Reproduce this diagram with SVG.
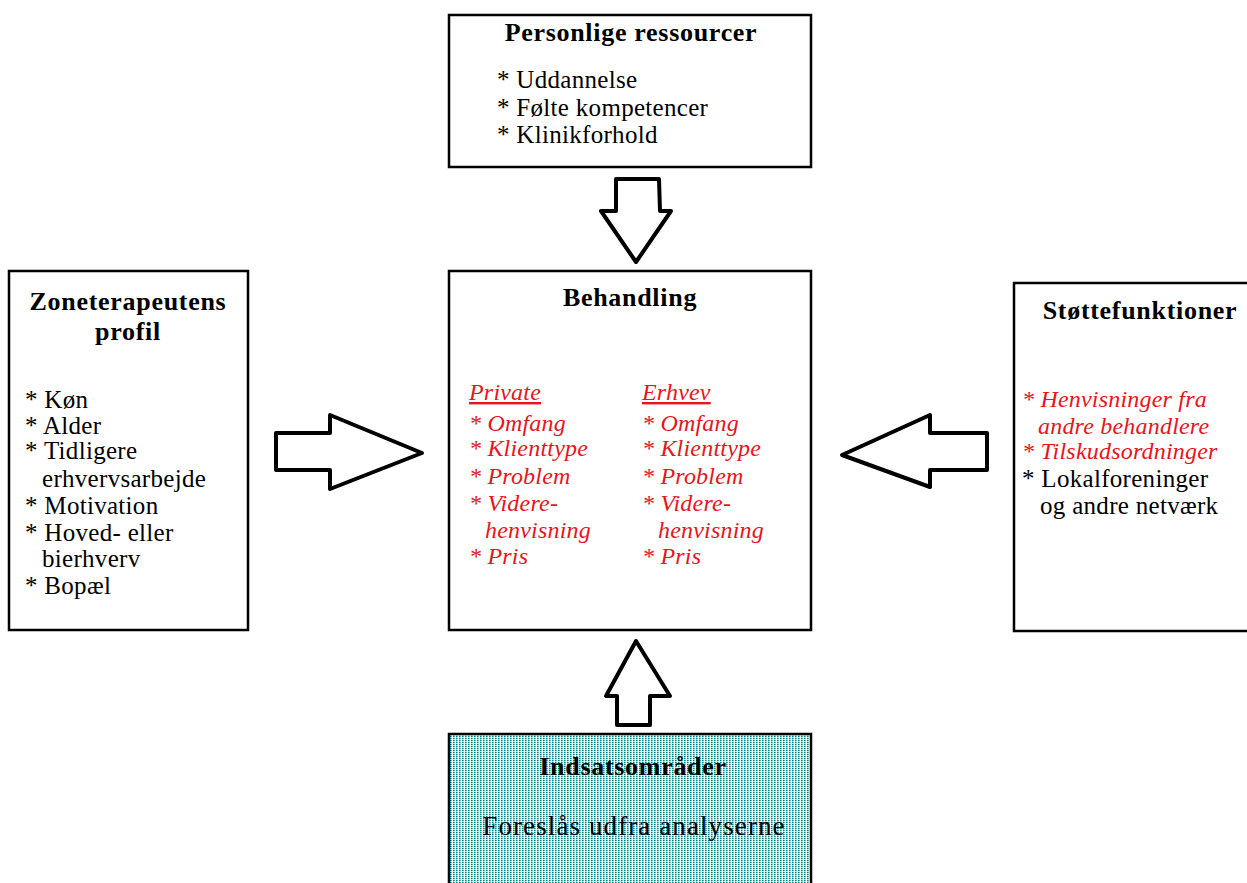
<svg xmlns="http://www.w3.org/2000/svg" width="1247" height="883" viewBox="0 0 1247 883">
<defs>
<style>
.box{fill:#fff;stroke:#000;stroke-width:2.5}
.t{font-family:"Liberation Serif",serif;font-weight:bold;font-size:26px;letter-spacing:0.7px;fill:#000}
.i{font-family:"Liberation Serif",serif;font-size:25px;letter-spacing:0.3px;fill:#000}
.r{font-family:"Liberation Serif",serif;font-style:italic;font-size:24px;letter-spacing:0.2px;fill:#e8141c}
.big{font-size:27px;letter-spacing:1.1px}
.arr{fill:#fff;stroke:#000;stroke-width:4;stroke-linejoin:round}
</style>
<pattern id="dots" width="3" height="2" patternUnits="userSpaceOnUse">
<rect width="3" height="2" fill="#fff"/>
<rect x="0" y="0" width="1.6" height="1.3" fill="#008080"/>
</pattern>
</defs>
<rect width="1247" height="883" fill="#fff"/>
<g id="connectors">
<polygon class="arr" points="616,179 659,179 660,211 671,211 636,262 601,211 616,211"/>
<polygon class="arr" points="276,433 330,433 330,415 422,453 330,489 330,470 276,470"/>
<polygon class="arr" points="987,433 930,433 930,415 842,455 930,487 930,470 987,470"/>
<polygon class="arr" points="617,725 650,725 650,696 670,696 636,641 606,696 617,696"/>
</g>
<g id="personlige">
<rect class="box" x="449" y="15" width="362" height="152"/>
<text class="t" x="631" y="41" text-anchor="middle">Personlige ressourcer</text>
<text class="i" x="497" y="88">* Uddannelse</text>
<text class="i" x="497" y="116">* Følte kompetencer</text>
<text class="i" x="497" y="143">* Klinikforhold</text>
</g>
<g id="zoneterapeut">
<rect class="box" x="9" y="271" width="239" height="359"/>
<text class="t" x="128" y="310" text-anchor="middle">Zoneterapeutens</text>
<text class="t" x="128" y="340" text-anchor="middle">profil</text>
<text class="i" x="25" y="408">* Køn</text>
<text class="i" x="25" y="434">* Alder</text>
<text class="i" x="25" y="459">* Tidligere</text>
<text class="i" x="42" y="487">erhvervsarbejde</text>
<text class="i" x="25" y="514">* Motivation</text>
<text class="i" x="25" y="541">* Hoved- eller</text>
<text class="i" x="42" y="567">bierhverv</text>
<text class="i" x="25" y="594">* Bopæl</text>
</g>
<g id="behandling">
<rect class="box" x="449" y="271" width="362" height="359"/>
<text class="t" x="630" y="306" text-anchor="middle">Behandling</text>
<text class="r" x="469" y="400" text-decoration="underline">Private</text>
<text class="r" x="469" y="431">* Omfang</text>
<text class="r" x="469" y="456">* Klienttype</text>
<text class="r" x="469" y="484">* Problem</text>
<text class="r" x="469" y="511">* Videre-</text>
<text class="r" x="485" y="538">henvisning</text>
<text class="r" x="469" y="564">* Pris</text>
<text class="r" x="642" y="400" text-decoration="underline">Erhvev</text>
<text class="r" x="642" y="431">* Omfang</text>
<text class="r" x="642" y="456">* Klienttype</text>
<text class="r" x="642" y="484">* Problem</text>
<text class="r" x="642" y="511">* Videre-</text>
<text class="r" x="658" y="538">henvisning</text>
<text class="r" x="642" y="564">* Pris</text>
</g>
<g id="stotte">
<rect class="box" x="1014" y="283" width="240" height="348"/>
<text class="t" x="1140" y="319" text-anchor="middle">Støttefunktioner</text>
<text class="r" x="1022" y="407">* Henvisninger fra</text>
<text class="r" x="1038" y="434">andre behandlere</text>
<text class="r" x="1022" y="459">* Tilskudsordninger</text>
<text class="i" x="1022" y="487">* Lokalforeninger</text>
<text class="i" x="1040" y="514">og andre netværk</text>
</g>
<g id="indsats">
<rect x="449" y="734" width="362" height="160" fill="url(#dots)" stroke="#000" stroke-width="2.5"/>
<text class="t" x="633" y="775" text-anchor="middle">Indsatsområder</text>
<text class="i big" x="634" y="835" text-anchor="middle">Foreslås udfra analyserne</text>
</g>
</svg>
